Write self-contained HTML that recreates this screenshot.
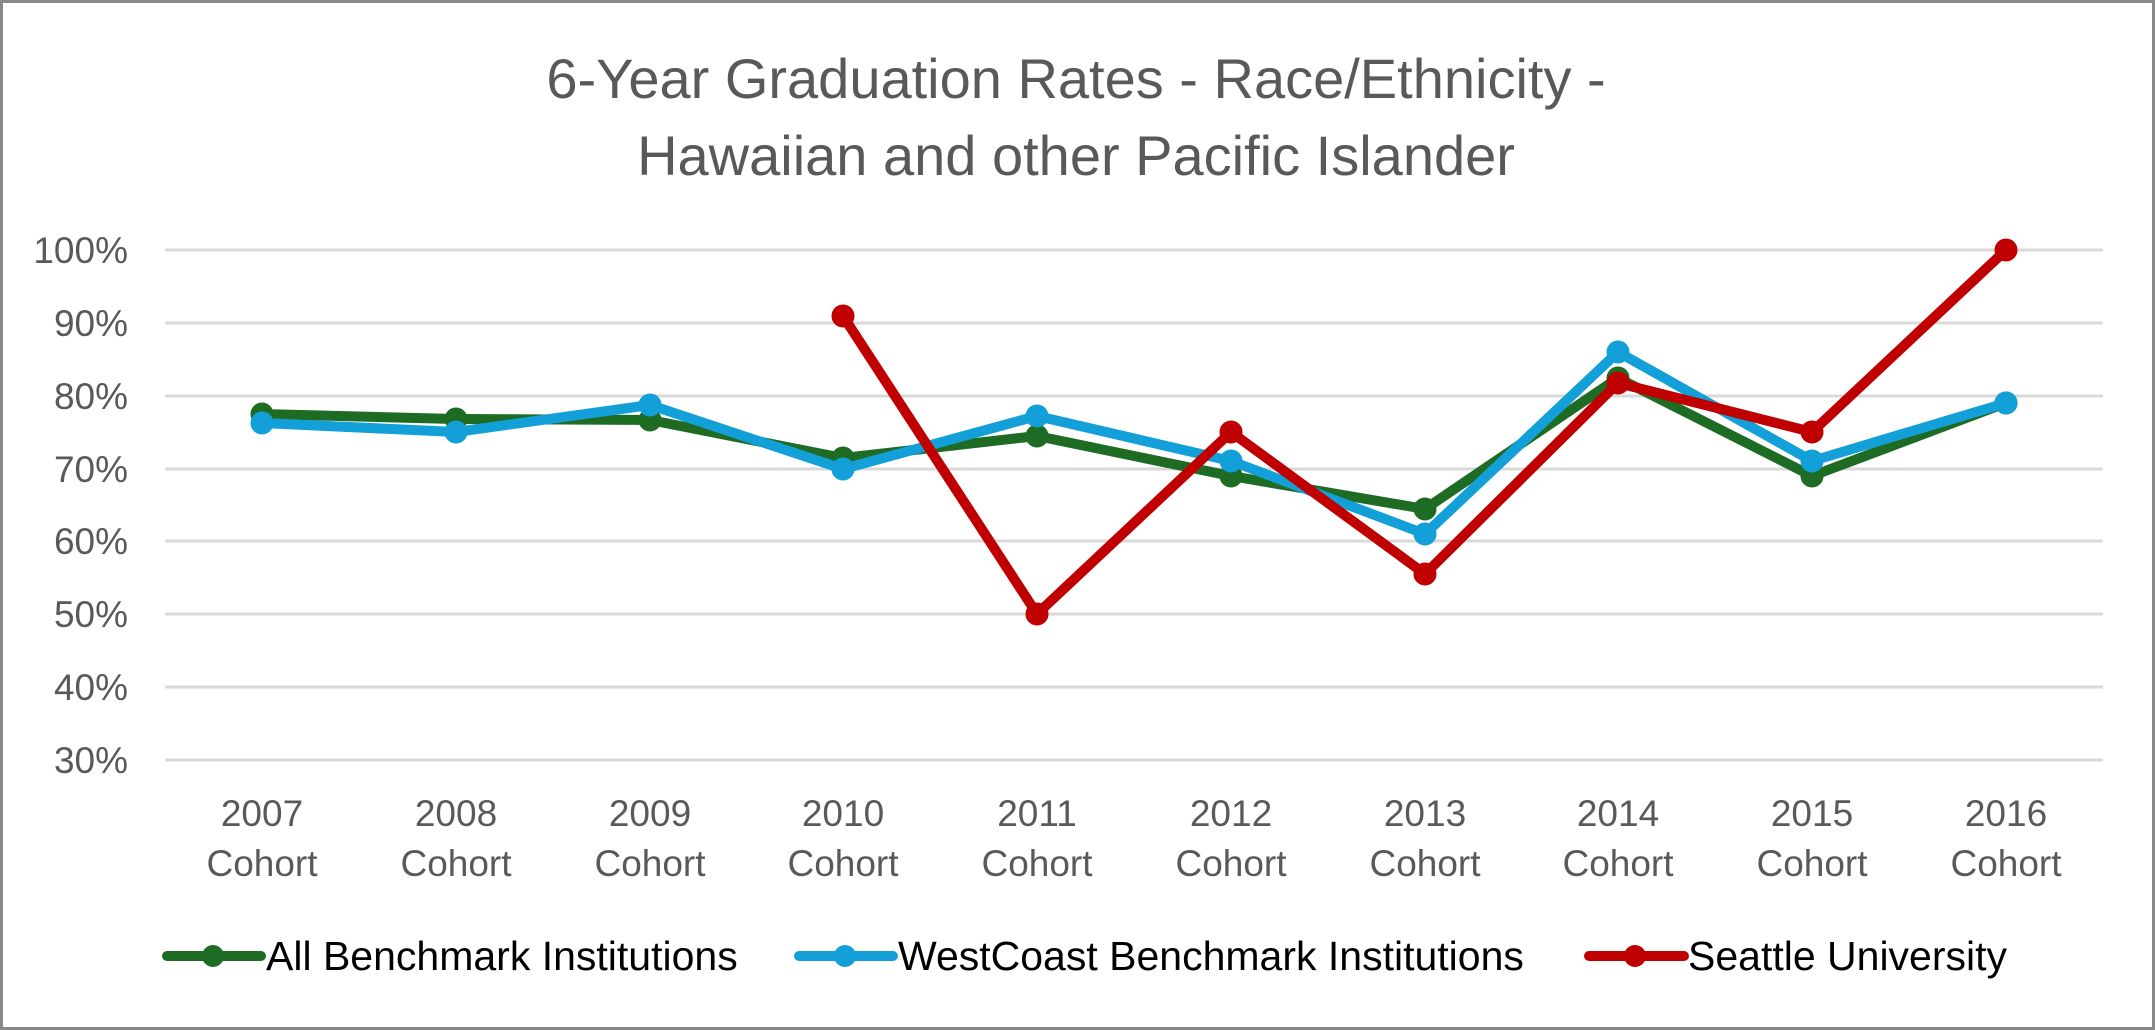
<!DOCTYPE html>
<html><head><meta charset="utf-8"><style>
html,body{margin:0;padding:0;background:#fff;}
svg{display:block;font-family:"Liberation Sans",sans-serif;}
</style></head><body>
<svg width="2155" height="1030" viewBox="0 0 2155 1030" xmlns="http://www.w3.org/2000/svg">
<rect x="1.5" y="1.5" width="2152" height="1027" fill="#fff" stroke="#898989" stroke-width="3"/>
<g fill="#595959" font-size="56" text-anchor="middle">
<text x="1076" y="98">6-Year Graduation Rates - Race/Ethnicity -</text>
<text x="1076" y="175">Hawaiian and other Pacific Islander</text>
</g>
<g stroke="#d9d9d9" stroke-width="3">
<line x1="165" x2="2103" y1="250" y2="250"/><line x1="165" x2="2103" y1="323" y2="323"/>
<line x1="165" x2="2103" y1="396" y2="396"/><line x1="165" x2="2103" y1="469" y2="469"/>
<line x1="165" x2="2103" y1="541" y2="541"/><line x1="165" x2="2103" y1="614" y2="614"/>
<line x1="165" x2="2103" y1="687" y2="687"/><line x1="165" x2="2103" y1="760" y2="760"/>
</g>
<g fill="#595959" font-size="37" text-anchor="end">
<text x="128" y="263">100%</text><text x="128" y="336">90%</text><text x="128" y="409">80%</text>
<text x="128" y="482">70%</text><text x="128" y="554">60%</text><text x="128" y="627">50%</text>
<text x="128" y="700">40%</text><text x="128" y="773">30%</text>
</g>
<g fill="#595959" font-size="37" text-anchor="middle">
<text x="262" y="826">2007</text><text x="262" y="876">Cohort</text>
<text x="456" y="826">2008</text><text x="456" y="876">Cohort</text>
<text x="650" y="826">2009</text><text x="650" y="876">Cohort</text>
<text x="843" y="826">2010</text><text x="843" y="876">Cohort</text>
<text x="1037" y="826">2011</text><text x="1037" y="876">Cohort</text>
<text x="1231" y="826">2012</text><text x="1231" y="876">Cohort</text>
<text x="1425" y="826">2013</text><text x="1425" y="876">Cohort</text>
<text x="1618" y="826">2014</text><text x="1618" y="876">Cohort</text>
<text x="1812" y="826">2015</text><text x="1812" y="876">Cohort</text>
<text x="2006" y="826">2016</text><text x="2006" y="876">Cohort</text>
</g>
<g stroke="#1e6b24" fill="#1e6b24">
<polyline fill="none" stroke-width="10" stroke-linejoin="round" points="262,414 456,419 650,420 843,458 1037,436 1231,476 1425,509 1618,378 1812,476 2006,403"/>
<circle cx="262" cy="414" r="11"/><circle cx="456" cy="419" r="11"/><circle cx="650" cy="420" r="11"/><circle cx="843" cy="458" r="11"/><circle cx="1037" cy="436" r="11"/><circle cx="1231" cy="476" r="11"/><circle cx="1425" cy="509" r="11"/><circle cx="1618" cy="378" r="11"/><circle cx="1812" cy="476" r="11"/><circle cx="2006" cy="403" r="11"/>
</g>
<g stroke="#139fd8" fill="#139fd8">
<polyline fill="none" stroke-width="10" stroke-linejoin="round" points="262,423 456,432 650,405 843,469 1037,416 1231,461 1425,534 1618,352 1812,461 2006,403"/>
<circle cx="262" cy="423" r="11"/><circle cx="456" cy="432" r="11"/><circle cx="650" cy="405" r="11"/><circle cx="843" cy="469" r="11"/><circle cx="1037" cy="416" r="11"/><circle cx="1231" cy="461" r="11"/><circle cx="1425" cy="534" r="11"/><circle cx="1618" cy="352" r="11"/><circle cx="1812" cy="461" r="11"/><circle cx="2006" cy="403" r="11"/>
</g>
<g stroke="#c00000" fill="#c00000">
<polyline fill="none" stroke-width="10" stroke-linejoin="round" points="843,316 1037,614 1231,432 1425,574 1618,383 1812,432 2006,250"/>
<circle cx="843" cy="316" r="11"/><circle cx="1037" cy="614" r="11"/><circle cx="1231" cy="432" r="11"/><circle cx="1425" cy="574" r="11"/><circle cx="1618" cy="383" r="11"/><circle cx="1812" cy="432" r="11"/><circle cx="2006" cy="250" r="11"/>
</g>
<g font-size="41" fill="#000">
<line x1="167" x2="261" y1="956" y2="956" stroke="#1e6b24" stroke-width="10" stroke-linecap="round"/><circle cx="213" cy="956" r="11" fill="#1e6b24"/>
<text x="266" y="970">All Benchmark Institutions</text>
<line x1="799" x2="893" y1="956" y2="956" stroke="#139fd8" stroke-width="10" stroke-linecap="round"/><circle cx="845" cy="956" r="11" fill="#139fd8"/>
<text x="898" y="970">WestCoast Benchmark Institutions</text>
<line x1="1589" x2="1684" y1="956" y2="956" stroke="#c00000" stroke-width="10" stroke-linecap="round"/><circle cx="1635" cy="956" r="11" fill="#c00000"/>
<text x="1688" y="970">Seattle University</text>
</g>
</svg>
</body></html>
